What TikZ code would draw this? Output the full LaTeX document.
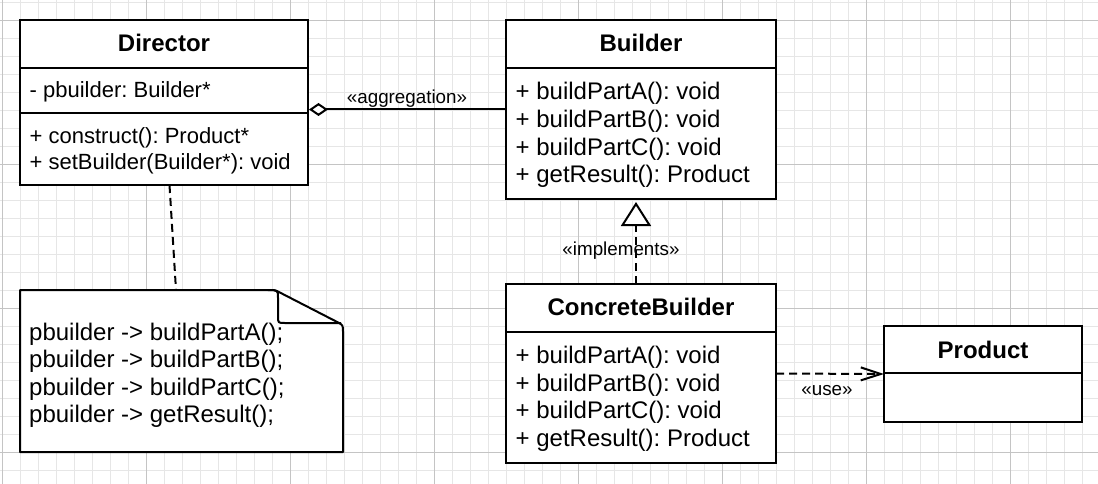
\documentclass[tikz,border=0pt]{standalone}
\usepackage{fontspec}
\setmainfont{Liberation Sans}
\usetikzlibrary{arrows.meta}
\definecolor{gridminor}{HTML}{E6E6E6}
\definecolor{gridmajor}{HTML}{C4C4C4}
\frenchspacing
\begin{document}
\begin{tikzpicture}[x=1pt,y=-1pt,
  umlbox/.style={draw, fill=white, line width=2pt, inner sep=0pt, outer sep=0pt, anchor=north west},
  titletext/.style={font=\bfseries\fontsize{24}{28}\selectfont, inner sep=0pt, anchor=base},
  member/.style={font=\fontsize{24}{28}\selectfont, inner sep=0pt, anchor=base west},
  dmember/.style={font=\fontsize{22}{26}\selectfont, inner sep=0pt, anchor=base west},
  stereo/.style={font=\fontsize{18.8}{22}\selectfont, inner sep=0pt, anchor=base},
  conn/.style={line width=2pt},
  dashconn/.style={line width=2pt, dash pattern=on 8pt off 5pt},
]
\useasboundingbox (0,0) rectangle (1098,484);
\fill[white] (0,0) rectangle (1098,484);
% grid
\begin{scope}
\clip (0,0) rectangle (1098,484);
\foreach \k in {0,...,60} \draw[gridminor, line width=1pt] ({2.3+18*\k},0) -- ({2.3+18*\k},484);
\foreach \k in {0,...,26} \draw[gridminor, line width=1pt] (0,{2.3+18*\k}) -- (1098,{2.3+18*\k});
\foreach \k in {0,...,7} \draw[gridmajor, line width=1pt] ({2.3+144*\k},0) -- ({2.3+144*\k},484);
\foreach \k in {0,...,3} \draw[gridmajor, line width=1pt] (0,{20.3+144*\k}) -- (1098,{20.3+144*\k});
\end{scope}

% Director
\node[umlbox, minimum width=288pt, minimum height=165pt] (director) at (20,20) {};
\draw[conn] (director.west |- 0,68) -- (director.east |- 0,68);
\draw[conn] (director.west |- 0,113) -- (director.east |- 0,113);
\node[titletext] (dtitle) at (164,52) {Director};
\node[dmember] (d1) at (29.5,97.3) {- pbuilder: Builder*};
\node[dmember] (d2) at (29.5,144) {+ construct(): Product*};
\node[dmember] (d3) at (29.5,170) {+ setBuilder(Builder*): void};

% Builder
\node[umlbox, minimum width=270pt, minimum height=179pt] (builder) at (506,20) {};
\draw[conn] (builder.west |- 0,68) -- (builder.east |- 0,68);
\node[titletext] (btitle) at (641,52) {Builder};
\node[member] (b1) at (515.5,99.5) {+ buildPartA(): void};
\node[member] (b2) at (515.5,127.3) {+ buildPartB(): void};
\node[member] (b3) at (515.5,155.1) {+ buildPartC(): void};
\node[member] (b4) at (515.5,182.9) {+ getResult(): Product};

% ConcreteBuilder
\node[umlbox, minimum width=270pt, minimum height=179pt] (concrete) at (506,284) {};
\draw[conn] (concrete.west |- 0,332) -- (concrete.east |- 0,332);
\node[titletext] (ctitle) at (641,315) {ConcreteBuilder};
\node[member] (c1) at (515.5,363.5) {+ buildPartA(): void};
\node[member] (c2) at (515.5,391.2) {+ buildPartB(): void};
\node[member] (c3) at (515.5,418.9) {+ buildPartC(): void};
\node[member] (c4) at (515.5,446.6) {+ getResult(): Product};

% Product
\node[umlbox, minimum width=198pt, minimum height=96pt] (product) at (884,326) {};
\draw[conn] (product.west |- 0,373) -- (product.east |- 0,373);
\node[titletext] (ptitle) at (983,358) {Product};

% Note
\node[draw=none, inner sep=0pt, outer sep=0pt, anchor=north west, minimum width=323pt, minimum height=162pt] (note) at (20,290) {};
\draw[conn, fill=white, line join=round] (20,290) -- (268,290) .. controls (275,290) .. (281.2,293.2) -- (336.8,321.8) .. controls (343,325) .. (343,332) -- (343,452) -- (20,452) -- cycle;
\draw[conn] (268,290) .. controls (278,290) .. (278,298) -- (278,316) .. controls (278,323) .. (285,323) -- (341,323);
\node[member] (n1) at (29,340) {pbuilder -> buildPartA();};
\node[member] (n2) at (29,367.6) {pbuilder -> buildPartB();};
\node[member] (n3) at (29,395.2) {pbuilder -> buildPartC();};
\node[member] (n4) at (29,422.8) {pbuilder -> getResult();};

% Connectors
\draw[conn, shorten >=1pt, -{Diamond[length=19pt, width=13pt, fill=white]}] (builder.west) -- (director.east |- builder.west);
\node[stereo] (aggl) at (407,103.3) {«aggregation»};

\draw[dashconn, shorten >=3pt, -{Triangle[length=24pt, width=30pt, fill=white]}] ([xshift=-5pt]concrete.north) -- ([xshift=-5pt]builder.south);
\node[stereo] (impl) at (621,255) {«implements»};

\draw[dashconn, -{Straight Barb[length=20pt, width=13pt]}] (concrete.east) -- (product.west);
\node[stereo] (usel) at (827,395) {«use»};

\draw[dashconn] ([xshift=5.5pt]director.south) -- ([xshift=-5.5pt]note.north);
\end{tikzpicture}
\end{document}
